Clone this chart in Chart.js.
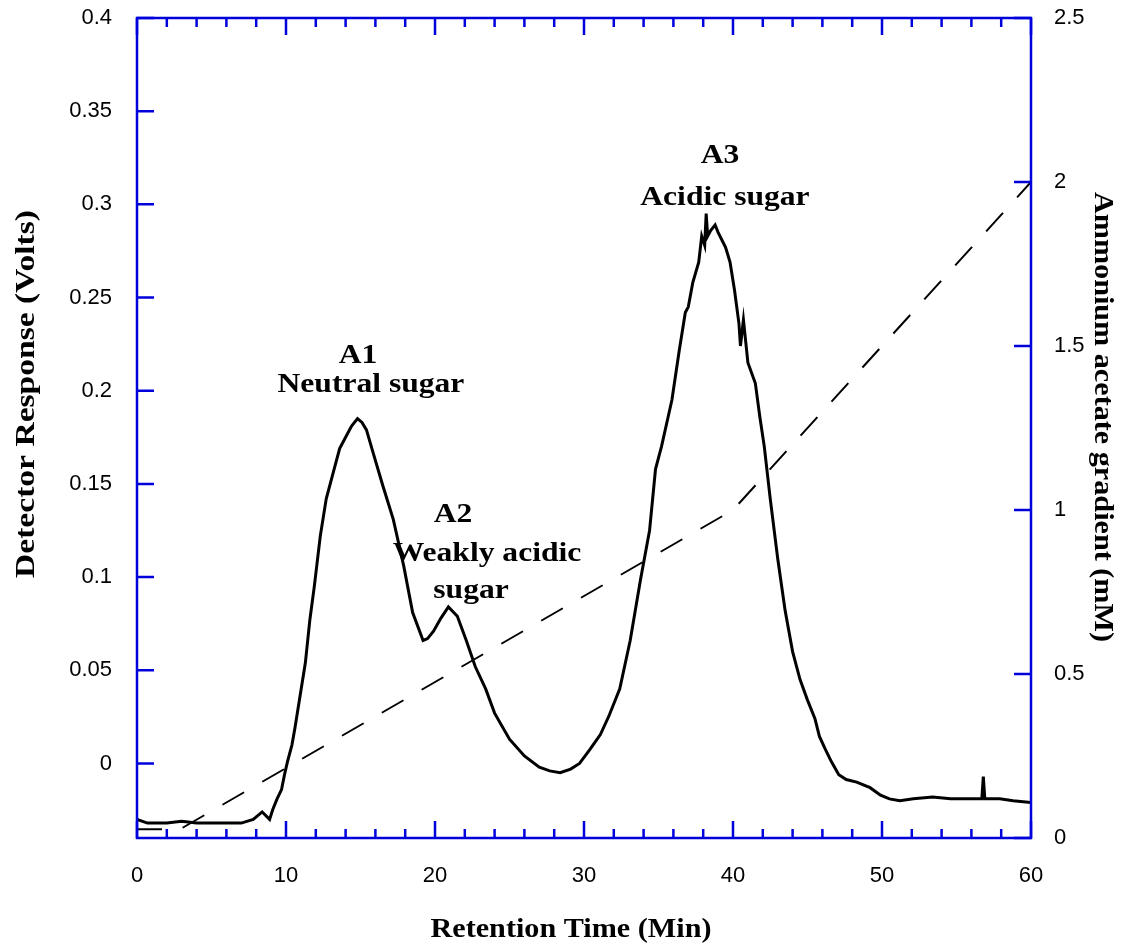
<!DOCTYPE html>
<html><head><meta charset="utf-8">
<script src="https://cdn.jsdelivr.net/npm/chart.js@4.4.0/dist/chart.umd.min.js"></script>
<style>html,body{margin:0;padding:0;background:#fff;} #wrap{width:1138px;height:946px;position:relative;}</style>
</head><body><div id="wrap"><canvas id="c" width="1138" height="946"></canvas></div>
<script>
// ---- data ----
const traceTime = [0.0,0.7,2.0,3.0,4.0,5.0,6.0,7.0,7.8,8.4,8.9,9.1,9.4,9.7,9.9,10.1,10.4,10.6,10.9,11.3,11.6,11.9,12.3,12.7,13.2,13.6,14.0,14.4,14.8,15.1,15.4,15.8,16.5,17.2,17.9,18.5,19.2,19.5,19.9,20.4,20.9,21.5,22.1,22.7,23.4,24.0,25.0,26.0,27.0,27.7,28.4,29.1,29.7,30.4,31.1,31.7,32.4,33.1,33.8,34.4,34.8,35.2,35.9,36.4,36.8,37.0,37.3,37.7,37.9,38.1,38.2,38.3,38.5,38.8,39.0,39.5,39.8,40.1,40.4,40.5,40.7,41.0,41.5,41.8,42.1,42.5,43.0,43.5,44.0,44.5,45.0,45.5,45.8,46.2,46.6,47.1,47.6,48.3,49.2,49.9,50.5,51.2,52.1,53.4,54.6,56.1,56.7,56.8,56.9,57.9,58.8,60.0];
const traceResponse = [-0.030,-0.032,-0.032,-0.031,-0.032,-0.032,-0.032,-0.032,-0.030,-0.026,-0.030,-0.025,-0.019,-0.014,-0.006,0.001,0.010,0.019,0.034,0.054,0.077,0.095,0.122,0.142,0.157,0.169,0.175,0.181,0.185,0.183,0.179,0.168,0.149,0.131,0.106,0.081,0.066,0.067,0.071,0.078,0.084,0.079,0.066,0.052,0.040,0.027,0.013,0.004,-0.002,-0.004,-0.005,-0.003,0.000,0.0075,0.0155,0.026,0.040,0.066,0.099,0.125,0.158,0.170,0.195,0.222,0.242,0.245,0.258,0.269,0.283,0.278,0.295,0.283,0.286,0.289,0.285,0.277,0.269,0.254,0.236,0.224,0.238,0.215,0.204,0.186,0.170,0.142,0.110,0.082,0.060,0.045,0.034,0.024,0.0145,0.0075,0.001,-0.006,-0.0086,-0.010,-0.013,-0.017,-0.019,-0.020,-0.019,-0.018,-0.019,-0.019,-0.019,-0.007,-0.019,-0.019,-0.020,-0.021];
const gradientTime = [0, 2.9, 40, 60];
const gradientConc = [0.027, 0.027, 1.0, 2.0];

const xTickValues = [0,10,20,30,40,50,60];
const xTickLabels = ['0','10','20','30','40','50','60'];
const xMinorValues = [2,4,6,8,12,14,16,18,22,24,26,28,32,34,36,38,42,44,46,48,52,54,56,58];
const yTickValues = [0,0.05,0.1,0.15,0.2,0.25,0.3,0.35,0.4];
const yTickLabels = ['0','0.05','0.1','0.15','0.2','0.25','0.3','0.35','0.4'];
const y2TickValues = [0,0.5,1,1.5,2,2.5];
const y2TickLabels = ['0','0.5','1','1.5','2','2.5'];

const annotationTexts = ['A1','Neutral sugar','A2','Weakly acidic','sugar','A3','Acidic sugar'];
const annotationX = [14.83, 15.70, 21.21, 23.49, 22.42, 39.13, 39.46];
const annotationY = [0.215, 0.1995, 0.1298, 0.1088, 0.0890, 0.3223, 0.2997];

const titleX = 'Retention Time (Min)';
const titleY = 'Detector Response (Volts)';
const titleY2 = 'Ammonium acetate gradient (mM)';

// ---- drawing ----
const AXIS_BLUE = 'rgb(0,0,220)';
const SERIF = '"Liberation Serif", "Times New Roman", serif';
const SANS = '"Liberation Sans", Arial, sans-serif';

function drawText(ctx, text, x, y, rot, font, targetLen, scaleAlong) {
  ctx.save();
  ctx.translate(x, y);
  ctx.rotate(rot);
  ctx.font = font;
  let s = scaleAlong || 1;
  if (targetLen) s = targetLen / ctx.measureText(text).width;
  ctx.scale(s, 1);
  ctx.textAlign = 'center';
  ctx.textBaseline = 'alphabetic';
  ctx.fillStyle = '#000';
  ctx.fillText(text, 0, 0);
  ctx.restore();
}

const framePlugin = {
  id: 'frame',
  afterDraw(chart) {
    const {ctx, chartArea: a, scales} = chart;
    const sx = scales.x, sy = scales.y, sy2 = scales.y2;
    ctx.save();
    ctx.strokeStyle = AXIS_BLUE;
    ctx.lineWidth = 2.5;
    ctx.lineCap = 'butt';
    ctx.strokeRect(a.left, a.top, a.right - a.left, a.bottom - a.top);
    ctx.beginPath();
    const major = 17, minor = 9;
    xTickValues.forEach(v => {
      const p = sx.getPixelForValue(v);
      ctx.moveTo(p, a.bottom); ctx.lineTo(p, a.bottom - major);
      ctx.moveTo(p, a.top); ctx.lineTo(p, a.top + major);
    });
    xMinorValues.forEach(v => {
      const p = sx.getPixelForValue(v);
      ctx.moveTo(p, a.bottom); ctx.lineTo(p, a.bottom - minor);
      ctx.moveTo(p, a.top); ctx.lineTo(p, a.top + minor);
    });
    yTickValues.forEach(v => {
      const p = sy.getPixelForValue(v);
      ctx.moveTo(a.left, p); ctx.lineTo(a.left + major, p);
    });
    y2TickValues.forEach(v => {
      const p = sy2.getPixelForValue(v);
      ctx.moveTo(a.right, p); ctx.lineTo(a.right - major, p);
    });
    ctx.stroke();
    ctx.restore();

    // annotations
    const aFont = 'bold 27px ' + SERIF;
    annotationTexts.forEach((t, i) => {
      drawText(ctx, t, sx.getPixelForValue(annotationX[i]), sy.getPixelForValue(annotationY[i]), 0, aFont, null, 1.17);
    });

    // axis titles
    const tFont = 'bold 27px ' + SERIF;
    const cx = (a.left + a.right) / 2, cy = (a.top + a.bottom) / 2;
    drawText(ctx, titleX, cx - 13, a.bottom + 99, 0, tFont, 281);
    drawText(ctx, titleY, a.left - 103, cy - 34, -Math.PI / 2, tFont, 368);
    drawText(ctx, titleY2, a.right + 64, cy - 11, Math.PI / 2, tFont, 450);
  }
};

const tickFont = {family: SANS, size: 22};

new Chart(document.getElementById('c'), {
  type: 'line',
  data: {
    datasets: [
      {
        label: 'Detector response',
        data: traceTime.map((t, i) => ({x: t, y: traceResponse[i]})),
        borderColor: '#000', borderWidth: 3, pointRadius: 0, tension: 0, fill: false,
        yAxisID: 'y'
      },
      {
        label: 'Ammonium acetate gradient',
        data: gradientTime.map((t, i) => ({x: t, y: gradientConc[i]})),
        borderColor: '#000', borderWidth: 2, borderDash: [25, 21], pointRadius: 0, tension: 0, fill: false,
        yAxisID: 'y2'
      }
    ]
  },
  options: {
    responsive: false, animation: false, devicePixelRatio: 1,
    layout: {padding: {top: 18, left: 0, right: 0, bottom: 0}},
    plugins: {legend: {display: false}, tooltip: {enabled: false}, title: {display: false}},
    scales: {
      x: {
        type: 'linear', position: 'bottom', min: 0, max: 60,
        grid: {display: false, drawTicks: false}, border: {display: false},
        ticks: {font: tickFont, color: '#000', padding: 25, maxRotation: 0, autoSkip: false,
          callback: (v, i) => xTickLabels[i]},
        afterBuildTicks: s => { s.ticks = xTickValues.map(v => ({value: v})); },
        afterFit: s => { s.height = 108; s.paddingLeft = 0; s.paddingRight = 0; }
      },
      y: {
        type: 'linear', position: 'left', min: -0.04, max: 0.4,
        grid: {display: false, drawTicks: false}, border: {display: false},
        ticks: {font: tickFont, color: '#000', padding: 25, autoSkip: false,
          callback: (v, i) => yTickLabels[i]},
        afterBuildTicks: s => { s.ticks = yTickValues.map(v => ({value: v})); },
        afterFit: s => { s.width = 137; s.paddingTop = 0; s.paddingBottom = 0; }
      },
      y2: {
        type: 'linear', position: 'right', min: 0, max: 2.5,
        grid: {display: false, drawTicks: false}, border: {display: false},
        ticks: {font: tickFont, color: '#000', padding: 23, autoSkip: false,
          callback: (v, i) => y2TickLabels[i]},
        afterBuildTicks: s => { s.ticks = y2TickValues.map(v => ({value: v})); },
        afterFit: s => { s.width = 107; s.paddingTop = 0; s.paddingBottom = 0; }
      }
    }
  },
  plugins: [framePlugin]
});
</script>
</body></html>
